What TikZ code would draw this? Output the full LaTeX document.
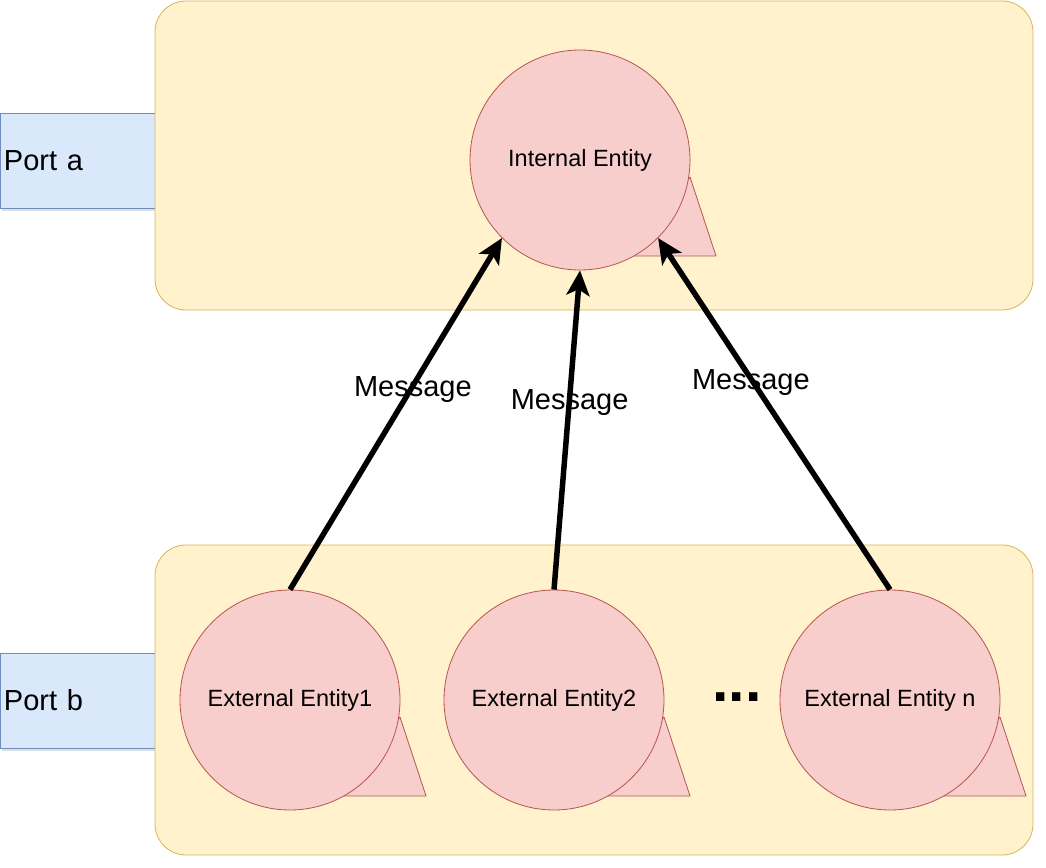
\documentclass[tikz,border=0pt]{standalone}
\usepackage{fontspec}
\setmainfont{Liberation Sans}
\usetikzlibrary{arrows.meta,shadows}

\definecolor{boxfill}{HTML}{FFF2CC}
\definecolor{boxline}{HTML}{D6B656}
\definecolor{portfill}{HTML}{DAE8FC}
\definecolor{portline}{HTML}{6C8EBF}
\definecolor{entityfill}{HTML}{F8CECC}
\definecolor{entityline}{HTML}{B85450}

\begin{document}
\begin{tikzpicture}[x=1pt,y=-1pt,
  container/.style={rectangle,rounded corners=31pt,draw=boxline,fill=boxfill,line width=0.8pt,
    minimum width=878pt,minimum height=309pt,inner sep=0pt},
  port/.style={rectangle,draw=portline,fill=portfill,line width=0.8pt,minimum width=155pt,
    minimum height=95pt,text width=147pt,align=left,inner sep=4pt,font=\fontsize{29}{34}\selectfont,
    drop shadow={shadow xshift=2pt,shadow yshift=-3pt,opacity=0.25}},
  entity/.style={circle,draw=entityline,fill=entityfill,line width=0.8pt,minimum size=220pt,
    inner sep=0pt,font=\fontsize{23.5}{28}\selectfont},
  tail/.style={draw=entityline,fill=entityfill,line width=0.8pt,line join=round},
  msg/.style={-{Stealth[length=25pt,width=23pt,inset=6pt]},line width=5.5pt},
  message/.style={inner sep=1pt,yshift=-4pt,font=\fontsize{29}{34}\selectfont}]

  \useasboundingbox (0,0) rectangle (1046,867);

  % ports and the two rounded containers
  \node[port] (pa) at (77.5,160.5) {Port a};
  \node[port] (pb) at (77.5,700.5) {Port b};
  \node[container] (inner) at (594,155.5) {};
  \node[container,minimum height=310pt] (outer) at (594,700) {};

  % tails first, the circles are drawn over them
  \foreach \cx/\cy in {580/160,290/700,554/700,890/700}
    \filldraw[tail] (\cx+110,\cy+17) -- (\cx+136,\cy+96) -- (\cx+52,\cy+96) -- cycle;

  \node[entity] (ie) at (580,160) {\raisebox{-2pt}{Internal Entity}};
  \node[entity] (e1) at (290,700) {\raisebox{-2pt}{External Entity1}};
  \node[entity] (e2) at (554,700) {\raisebox{-2pt}{External Entity2}};
  \node[entity] (en) at (890,700) {\raisebox{-2pt}{External Entity n}};
  \node[anchor=base,inner sep=0pt,font=\fontsize{59}{60}\selectfont\bfseries] (dots) at (737,701) {...};

  \draw[msg] (e1.north) -- node[message,pos=0.58] {Message} (ie.south west);
  \draw[msg] (e2.north) -- node[message,pos=0.6] {Message} (ie.south);
  \draw[msg] (en.north) -- node[message,pos=0.6] {Message} (ie.south east);
\end{tikzpicture}
\end{document}
